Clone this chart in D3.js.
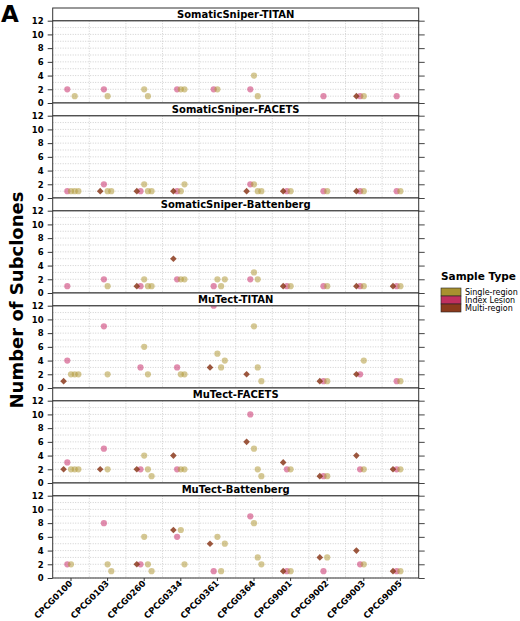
<!DOCTYPE html>
<html>
<head>
<meta charset="utf-8">
<script src="https://cdn.jsdelivr.net/npm/d3@7"></script>
<style>
  body { margin: 0; background: #fff; }
  text { font-family: "DejaVu Sans", sans-serif; }
</style>
</head>
<body>
<div id="chart-area"></div>
<script>
// patients (x categories)
const patients = ["CPCG0100", "CPCG0103", "CPCG0260", "CPCG0334", "CPCG0361",
                  "CPCG0364", "CPCG9001", "CPCG9002", "CPCG9003", "CPCG9005"];

// sample types per patient, in slot order (M = Multi-region, I = Index Lesion, S = Single-region)
const sampleTypes = [
  ["M", "I", "S", "S", "S"],
  ["M", "I", "S", "S"],
  ["M", "I", "S", "S", "S"],
  ["M", "I", "S", "S"],
  ["M", "I", "S", "S", "S"],
  ["M", "I", "S", "S", "S"],
  ["M", "I", "S"],
  ["M", "I", "S"],
  ["M", "I", "S"],
  ["M", "I", "S"]
];

const panelNames = ["SomaticSniper-TITAN", "SomaticSniper-FACETS", "SomaticSniper-Battenberg",
                    "MuTect-TITAN", "MuTect-FACETS", "MuTect-Battenberg"];

// number of subclones per sample (null = no result)
const _ = null;
const sniperTitan = [
  [_, 2, _, 1, _], [_, 2, 1, _], [_, _, 2, 1, _], [_, 2, 2, 2], [_, 2, 2, _, _],
  [_, 2, 4, 1, _], [_, _, _], [_, 1, _], [1, 1, 1], [_, 1, _]
];
const sniperFacets = [
  [_, 1, 1, 1, 1], [1, 2, 1, 1], [1, 1, 2, 1, 1], [1, 1, 1, 2], [_, _, _, _, _],
  [1, 2, 2, 1, 1], [1, 1, 1], [_, 1, 1], [1, 1, 1], [_, 1, 1]
];
const sniperBattenberg = [
  [_, 1, _, _, _], [_, 2, 1, _], [1, 1, 2, 1, 1], [5, 2, 2, 2], [_, 1, 2, 1, 2],
  [_, 2, 3, 2, _], [1, 1, 1], [_, 1, 1], [1, 1, 1], [1, 1, 1]
];
const mutectTitan = [
  [1, 4, 2, 2, 2], [_, 9, 2, _], [_, 3, 6, 2, _], [_, 3, 2, 2], [3, 12, 5, 3, 4],
  [2, _, 9, 3, 1], [_, _, _], [1, 1, 1], [2, 2, 4], [_, 1, 1]
];
const mutectFacets = [
  [2, 3, 2, 2, 2], [2, 5, 2, _], [2, 2, 4, 2, 1], [4, 2, 2, 2], [_, _, _, _, _],
  [6, 10, 5, 2, 1], [3, 2, 2], [1, 1, 1], [4, 2, 2], [2, 2, 2]
];
const mutectBattenberg = [
  [_, 2, 2, _, _], [_, 8, 2, 1], [2, 2, 6, 2, 1], [7, 6, 7, 2], [5, 1, 6, 1, 5],
  [_, 9, 8, 3, 2], [1, 1, 1], [3, 1, 3], [4, 2, 2], [1, 1, 1]
];
const panelValues = [sniperTitan, sniperFacets, sniperBattenberg, mutectTitan, mutectFacets, mutectBattenberg];

const yTicks = [0, 2, 4, 6, 8, 10, 12];
const legendKeys = ["S", "I", "M"];
const legendLabels = {S: "Single-region", I: "Index Lesion", M: "Multi-region"};

// colores
const keyColor = {S: "#a8912f", I: "#c0305f", M: "#8b3a1c"};
const pointColor = {S: "#b39b3c", I: "#c8306c", M: "#8b3a1c"};

// layout
const width = 520, height = 621;
const plotLeft = 52.7, plotRight = 418.7;
const firstTop = 8, stripH = 12.7, plotH = 82.3, pitch = 95;

const svg = d3.select("#chart-area").append("svg")
  .attr("width", width).attr("height", height);

const x = d3.scaleBand().domain(patients).range([plotLeft, plotRight]);
const slot = d3.scaleLinear().domain([0, 4]).range([-7.4, 7.4]);
const y = d3.scaleLinear().domain([0, 12]).range([plotH, 0]);

// flatten rows per panel
function rows(values) {
  const out = [];
  values.forEach((arr, p) => {
    arr.forEach((v, s) => {
      if (v !== null) out.push({patient: patients[p], slot: s, type: sampleTypes[p][s], value: v});
    });
  });
  return out;
}

panelNames.forEach((name, i) => {
  const top = firstTop + i * pitch;
  const g = svg.append("g").attr("transform", `translate(0, ${top + stripH})`);

  g.append("clipPath").attr("id", "clip" + i)
    .append("rect").attr("x", plotLeft).attr("y", 0)
    .attr("width", plotRight - plotLeft).attr("height", plotH);

  // grid
  const grid = g.append("g");
  grid.selectAll("line.h").data(d3.range(0, 13)).enter().append("line")
    .attr("x1", plotLeft).attr("x2", plotRight)
    .attr("y1", d => y(d)).attr("y2", d => y(d))
    .attr("stroke", "#c4c4c4").attr("stroke-width", 0.8).attr("stroke-dasharray", "1,1.5");
  grid.selectAll("line.v").data(patients.slice(1)).enter().append("line")
    .attr("x1", d => x(d)).attr("x2", d => x(d))
    .attr("y1", 0).attr("y2", plotH)
    .attr("stroke", "#c4c4c4").attr("stroke-width", 0.8).attr("stroke-dasharray", "1,1.5");

  // points
  const pts = g.append("g").attr("clip-path", `url(#clip${i})`);
  const data = rows(panelValues[i]);
  const px = d => x(d.patient) + x.bandwidth() / 2 + slot(d.slot);

  pts.selectAll("circle").data(data.filter(d => d.type !== "M")).enter().append("circle")
    .attr("cx", px).attr("cy", d => y(d.value)).attr("r", 3.1)
    .attr("fill", d => pointColor[d.type]).attr("fill-opacity", 0.55);

  pts.selectAll("path").data(data.filter(d => d.type === "M")).enter().append("path")
    .attr("d", d3.symbol().type(d3.symbolDiamond2).size(28))
    .attr("transform", d => `translate(${px(d)}, ${y(d.value)})`)
    .attr("fill", pointColor.M).attr("fill-opacity", 0.85);

  // left axis
  const axisLeft = d3.axisLeft(y).tickValues(yTicks).tickSize(5).tickPadding(4);
  const ya = g.append("g").attr("transform", `translate(${plotLeft}, 0)`).call(axisLeft);
  ya.select(".domain").remove();
  ya.selectAll("line").attr("stroke", "#333");
  ya.selectAll("text").attr("font-size", "8.5px").attr("font-weight", "bold")
    .attr("fill", "#000").style("font-family", "DejaVu Sans");

  // right ticks
  const axisRight = d3.axisRight(y).tickValues(yTicks).tickSize(6).tickFormat("");
  const yr = g.append("g").attr("transform", `translate(${plotRight}, 0)`).call(axisRight);
  yr.select(".domain").remove();
  yr.selectAll("line").attr("stroke", "#444");

  // plot frame
  g.append("rect").attr("x", plotLeft).attr("y", 0)
    .attr("width", plotRight - plotLeft).attr("height", plotH)
    .attr("fill", "none").attr("stroke", "#333").attr("stroke-width", 1);

  // strip
  svg.append("rect").attr("x", plotLeft).attr("y", top)
    .attr("width", plotRight - plotLeft).attr("height", stripH)
    .attr("fill", "#fff").attr("stroke", "#333").attr("stroke-width", 1);
  svg.append("text")
    .attr("x", (plotLeft + plotRight) / 2).attr("y", top + 10)
    .attr("text-anchor", "middle").attr("font-size", "10px").attr("font-weight", "bold")
    .text(name);

  // bottom axis on last panel
  if (i === panelNames.length - 1) {
    const axisBottom = d3.axisBottom(x).tickSize(3).tickSizeOuter(0);
    const xa = g.append("g").attr("transform", `translate(0, ${plotH})`).call(axisBottom);
    xa.select(".domain").remove();
    xa.selectAll("line").attr("stroke", "#333");
    xa.selectAll("text")
      .attr("font-size", "8.6px").attr("font-weight", "bold").attr("fill", "#000")
      .style("font-family", "DejaVu Sans")
      .attr("text-anchor", "end")
      .attr("x", 0).attr("y", 0).attr("dy", 0)
      .attr("transform", "translate(2, 6) rotate(-45)");
  }
});

// y title
svg.append("text")
  .attr("transform", "translate(23, 300) rotate(-90)")
  .attr("text-anchor", "middle").attr("font-size", "18px").attr("font-weight", "bold")
  .text("Number of Subclones");

// panel letter
svg.append("text").attr("x", 1).attr("y", 22)
  .attr("font-size", "23px").attr("font-weight", "bold").text("A");

// legend
const legend = svg.append("g").attr("transform", "translate(441, 0)");
legend.append("text").attr("x", 0).attr("y", 280)
  .attr("font-size", "10.5px").attr("font-weight", "bold").text("Sample Type");
legendKeys.forEach((k, j) => {
  const row = legend.append("g").attr("transform", `translate(0, ${288 + j * 8})`);
  row.append("rect").attr("width", 20).attr("height", 8)
    .attr("fill", keyColor[k]).attr("stroke", "#222").attr("stroke-width", 0.6);
  row.append("text").attr("x", 24).attr("y", 7)
    .attr("font-size", "8px").text(legendLabels[k]);
});
</script>
</body>
</html>
